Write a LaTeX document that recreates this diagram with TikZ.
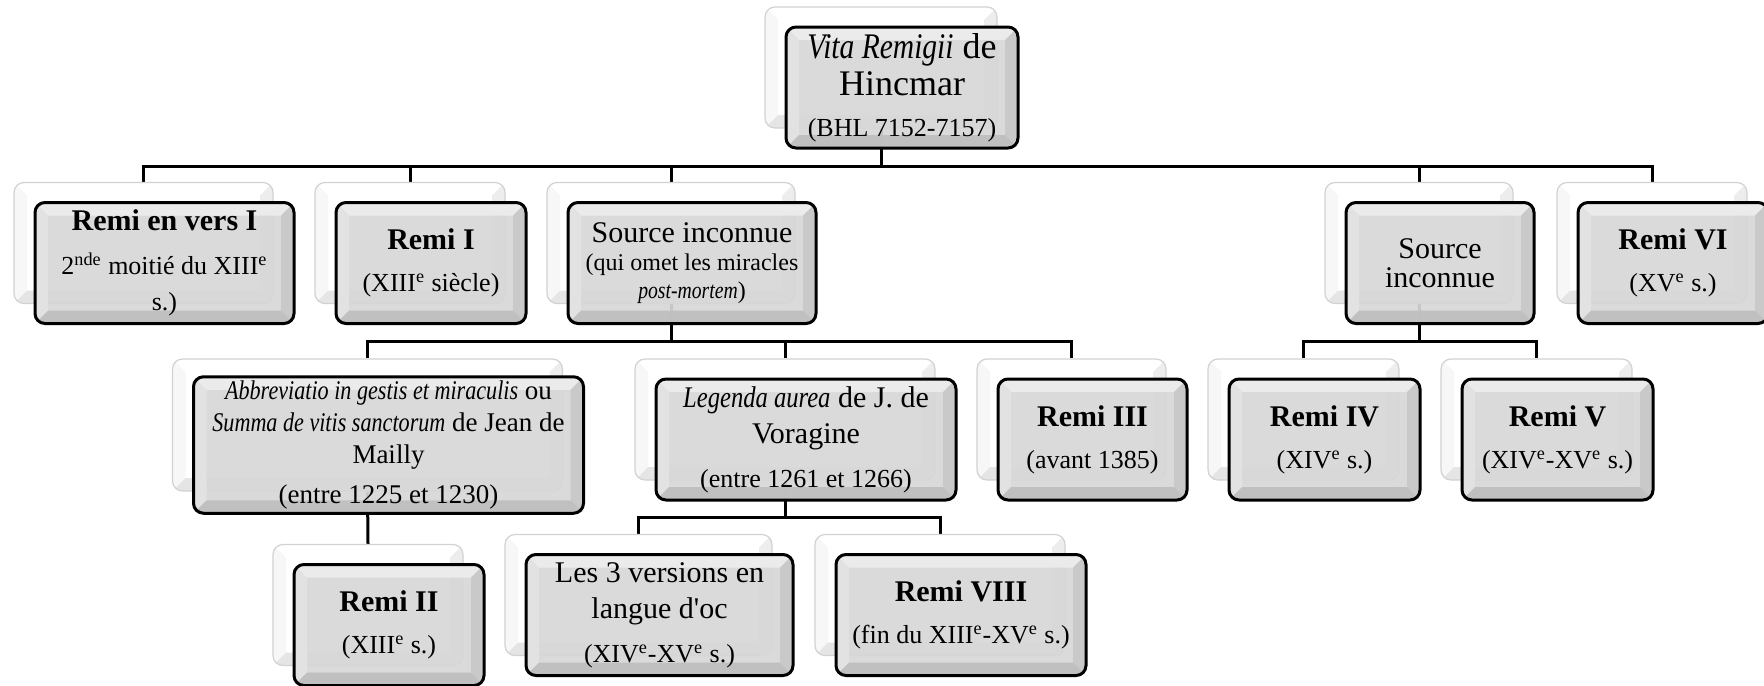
\documentclass[tikz,border=0pt]{standalone}
\usepackage{fontspec}
\setmainfont{Liberation Serif}[ItalicFeatures={FakeStretch=0.82}]
\usetikzlibrary{positioning,calc,backgrounds}
\newcommand{\fmain}{\fontsize{15}{18}\selectfont}
\newcommand{\fsub}{\fontsize{13}{15.5}\selectfont}
\newcommand{\expo}[1]{\textsuperscript{#1}}
\tikzset{
  % four bevel bands: top / left / right / bottom
  bevel/.style n args={4}{path picture={
      \path (path picture bounding box.north west) coordinate (pNW)
            (path picture bounding box.north east) coordinate (pNE)
            (path picture bounding box.south west) coordinate (pSW)
            (path picture bounding box.south east) coordinate (pSE);
      \fill[#1, sharp corners] (pNW) -- (pNE) -- ([shift={(-6.5pt,-6.5pt)}]pNE)
            -- ([shift={(6.5pt,-6.5pt)}]pNW) -- cycle;
      \fill[#2, sharp corners] (pNW) -- ([shift={(6.5pt,-6.5pt)}]pNW)
            -- ([shift={(6.5pt,6.5pt)}]pSW) -- (pSW) -- cycle;
      \fill[#3, sharp corners] (pNE) -- (pSE) -- ([shift={(-6.5pt,6.5pt)}]pSE)
            -- ([shift={(-6.5pt,-6.5pt)}]pNE) -- cycle;
      \fill[#4, sharp corners] (pSW) -- ([shift={(6.5pt,6.5pt)}]pSW)
            -- ([shift={(-6.5pt,6.5pt)}]pSE) -- (pSE) -- cycle;
  }},
  card/.style={rounded corners=5pt, inner sep=2pt, align=center},
  backcard/.style={card, draw=gray!35, line width=0.6pt, fill=white,
                   bevel={white}{gray!6}{gray!14}{gray!20}},
  frontcard/.style={card, draw=black, line width=1.5pt, fill=gray!31,
                    fill opacity=0.92, text opacity=1, font=\fmain,
                    bevel={gray!14}{gray!22}{gray!42}{gray!50}},
  sz/.style 2 args={minimum width=#1*0.5pt, minimum height=#2*0.5pt},
  link/.style={line width=1.5pt, black},
}

\begin{document}
\begin{tikzpicture}[x=0.5pt, y=-0.5pt]

\useasboundingbox (0,0) rectangle (1764,685);

\def\dx{21}  % front card sits right/below its back card
\def\dy{20}

%% ── root ─────────────────────────────────────────────────────────────────
\node[backcard, sz={232}{121}] (rootB) at (881,67.5) {};
\node[frontcard, sz={232}{121}, font=\fontsize{18}{18.5}\selectfont] (root)
  at ($(rootB)+(\dx,\dy)$)
  {\textit{Vita Remigii} de\\Hincmar\\[2pt]\fsub (BHL 7152-7157)};

%% ── first level ──────────────────────────────────────────────────────────
\node[backcard, sz={259}{121}] (ver1B) at (143.5,243) {};
\node[frontcard, sz={259}{121}] (ver1) at ($(ver1B)+(\dx,\dy)$)
  {\textbf{Remi en vers I}\\[4pt]\fsub 2\expo{nde} moitié du XIII\expo{e}\\\fsub s.)};

\node[backcard, sz={190}{121}] (r1B) at (410,243) {};
\node[frontcard, sz={190}{121}] (r1) at ($(r1B)+(\dx,\dy)$)
  {\textbf{Remi I}\\[3pt]\fsub (XIII\expo{e} siècle)};

\node[backcard, sz={248}{121}] (src1B) at (671,243) {};
\node[frontcard, sz={248}{121}, font=\fontsize{15}{14}\selectfont] (src1)
  at ($(src1B)+(\dx,\dy)$)
  {Source inconnue\\\fontsize{12}{14}\selectfont (qui omet les miracles\\
   \fontsize{12}{14}\selectfont\textit{post-mortem})};

\node[backcard, sz={188}{121}] (src2B) at (1419,243) {};
\node[frontcard, sz={188}{121}, font=\fontsize{15}{14.5}\selectfont] (src2)
  at ($(src2B)+(\dx,\dy)$)
  {Source\\inconnue};

\node[backcard, sz={190}{121}] (r6B) at (1652,243) {};
\node[frontcard, sz={190}{121}] (r6) at ($(r6B)+(\dx,\dy)$)
  {\textbf{Remi VI}\\[3pt]\fsub (XV\expo{e} s.)};

%% ── second level ─────────────────────────────────────────────────────────
\node[backcard, sz={390}{132}] (abbrB) at (367.5,425) {};
\node[frontcard, sz={390}{132}, font=\fontsize{13.5}{16}\selectfont] (abbr)
  at ($(abbrB)+(\dx,\dy)$)
  {\textit{Abbreviatio in gestis et miraculis} ou\\
   \textit{Summa de vitis sanctorum} de Jean de\\Mailly\\[4pt]
   (entre 1225 et 1230)};

\node[backcard, sz={300}{121}] (legB) at (785,419.5) {};
\node[frontcard, sz={300}{121}] (leg) at ($(legB)+(\dx,\dy)$)
  {\textit{Legenda aurea} de J. de\\Voragine\\[4pt]\fsub (entre 1261 et 1266)};

\node[backcard, sz={189}{121}] (r3B) at (1071.5,419.5) {};
\node[frontcard, sz={189}{121}] (r3) at ($(r3B)+(\dx,\dy)$)
  {\textbf{Remi III}\\[3pt]\fsub (avant 1385)};

\node[backcard, sz={191}{121}] (r4B) at (1303.5,419.5) {};
\node[frontcard, sz={191}{121}] (r4) at ($(r4B)+(\dx,\dy)$)
  {\textbf{Remi IV}\\[3pt]\fsub (XIV\expo{e} s.)};

\node[backcard, sz={191}{121}] (r5B) at (1536.5,419.5) {};
\node[frontcard, sz={191}{121}] (r5) at ($(r5B)+(\dx,\dy)$)
  {\textbf{Remi V}\\[3pt]\fsub (XIV\expo{e}-XV\expo{e} s.)};

%% ── third level ──────────────────────────────────────────────────────────
\node[backcard, sz={190}{121}] (r2B) at (368,605) {};
\node[frontcard, sz={190}{121}] (r2) at ($(r2B)+(\dx,\dy)$)
  {\textbf{Remi II}\\[3pt]\fsub (XIII\expo{e} s.)};

\node[backcard, sz={267}{121}] (ocB) at (638.5,595) {};
\node[frontcard, sz={267}{121}] (oc) at ($(ocB)+(\dx,\dy)$)
  {Les 3 versions en\\langue d\textquotesingle oc\\[4pt]\fsub (XIV\expo{e}-XV\expo{e} s.)};

\node[backcard, sz={250}{121}] (r8B) at (940,595) {};
\node[frontcard, sz={250}{121}] (r8) at ($(r8B)+(\dx,\dy)$)
  {\textbf{Remi VIII}\\[3pt]\fsub (fin du XIII\expo{e}-XV\expo{e} s.)};

%% ── connectors, behind the cards ─────────────────────────────────────────
\coordinate (bus1) at (0,166);
\coordinate (bus2) at (0,341);
\coordinate (bus3) at (0,517);

\begin{scope}[on background layer]
\draw[link] (rootB.south) -- (rootB.south |- bus1) -| (ver1B.north);
\draw[link] (rootB.south) -- (rootB.south |- bus1) -| (r1B.north);
\draw[link] (rootB.south) -- (rootB.south |- bus1) -| (src1B.north);
\draw[link] (rootB.south) -- (rootB.south |- bus1) -| (src2B.north);
\draw[link] (rootB.south) -- (rootB.south |- bus1) -| (r6B.north);

\draw[link] (src1B.south) -- (src1B.south |- bus2) -| (abbrB.north);
\draw[link] (src1B.south) -- (src1B.south |- bus2) -| (legB.north);
\draw[link] (src1B.south) -- (src1B.south |- bus2) -| (r3B.north);

\draw[link] (src2B.south) -- (src2B.south |- bus2) -| (r4B.north);
\draw[link] (src2B.south) -- (src2B.south |- bus2) -| (r5B.north);

\draw[link] (abbrB.south) -- (r2B.north);

\draw[link] (legB.south) -- (legB.south |- bus3) -| (ocB.north);
\draw[link] (legB.south) -- (legB.south |- bus3) -| (r8B.north);
\end{scope}

\end{tikzpicture}
\end{document}
